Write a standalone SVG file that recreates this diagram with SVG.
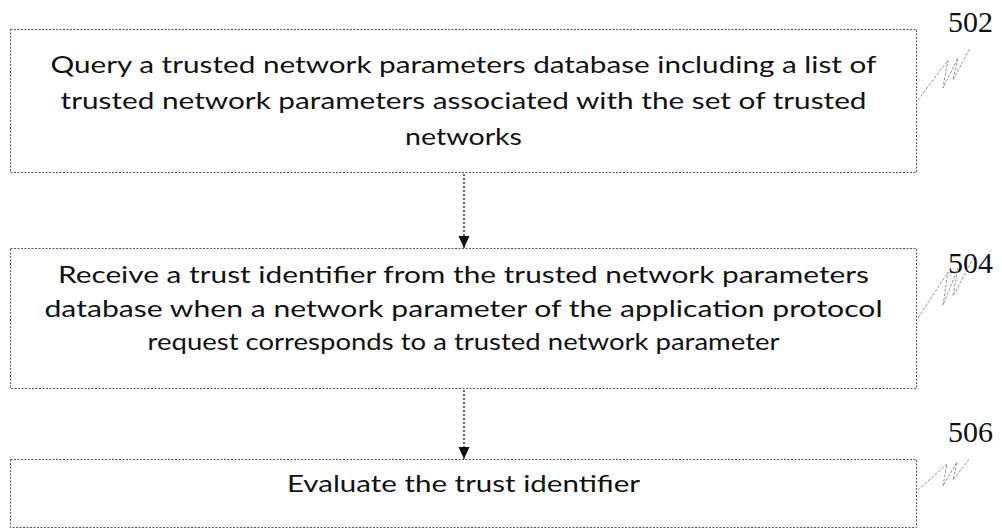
<svg xmlns="http://www.w3.org/2000/svg" width="1002" height="529" viewBox="0 0 1002 529">
<style>
.box{fill:none;stroke:#555;stroke-width:1;stroke-dasharray:2 1.5}
.t{font-family:Lato,"Open Sans",sans-serif;font-size:22.5px;fill:#111;text-anchor:middle}
.ref{font-family:"Liberation Serif",serif;font-size:30px;fill:#111;text-anchor:end}
.sq{fill:none;stroke:#888;stroke-width:0.9;stroke-dasharray:3 1.5}
.con{stroke:#111;stroke-width:1.3;stroke-dasharray:2 2;fill:none}
</style>
<defs>
<marker id="ah" markerWidth="14" markerHeight="14" refX="13" refY="7" orient="auto" markerUnits="userSpaceOnUse" viewBox="0 0 14 14">
<path d="M1,1.5 L13,7 L1,12.5 Z" fill="#111"/>
</marker>
</defs>
<g id="n502">
<rect class="box" x="10.5" y="29.5" width="906" height="143"/>
<text class="t" x="463.5" y="73" textLength="826" lengthAdjust="spacingAndGlyphs">Query a trusted network parameters database including a list of</text>
<text class="t" x="463.5" y="109" textLength="806" lengthAdjust="spacingAndGlyphs">trusted network parameters associated with the set of trusted</text>
<text class="t" x="463.5" y="145" textLength="117" lengthAdjust="spacingAndGlyphs">networks</text>
<text class="ref" x="993" y="32">502</text>
<polyline class="sq" points="918,100 948,60 943,88 958,58 953,80 970,48"/>
</g>
<g id="n504">
<rect class="box" x="10.5" y="248.5" width="906" height="140"/>
<text class="t" x="463.5" y="283" textLength="811" lengthAdjust="spacingAndGlyphs">Receive a trust identifier from the trusted network parameters</text>
<text class="t" x="463.5" y="317" textLength="838" lengthAdjust="spacingAndGlyphs">database when a network parameter of the application protocol</text>
<text class="t" x="463.5" y="350" textLength="632" lengthAdjust="spacingAndGlyphs">request corresponds to a trusted network parameter</text>
<text class="ref" x="993" y="273">504</text>
<polyline class="sq" points="918,318 948,272 943,305 958,268 953,296 975,255"/>
</g>
<g id="n506">
<rect class="box" x="10.5" y="459.5" width="906" height="68"/>
<text class="t" x="463.5" y="492" textLength="353" lengthAdjust="spacingAndGlyphs">Evaluate the trust identifier</text>
<text class="ref" x="993" y="442">506</text>
<polyline class="sq" points="918,490 947,464 943,486 957,462 953,480 970,458"/>
</g>
<g id="connectors">
<line class="con" x1="464" y1="174" x2="464" y2="248" marker-end="url(#ah)"/>
<line class="con" x1="464" y1="390" x2="464" y2="459" marker-end="url(#ah)"/>
</g>
</svg>
